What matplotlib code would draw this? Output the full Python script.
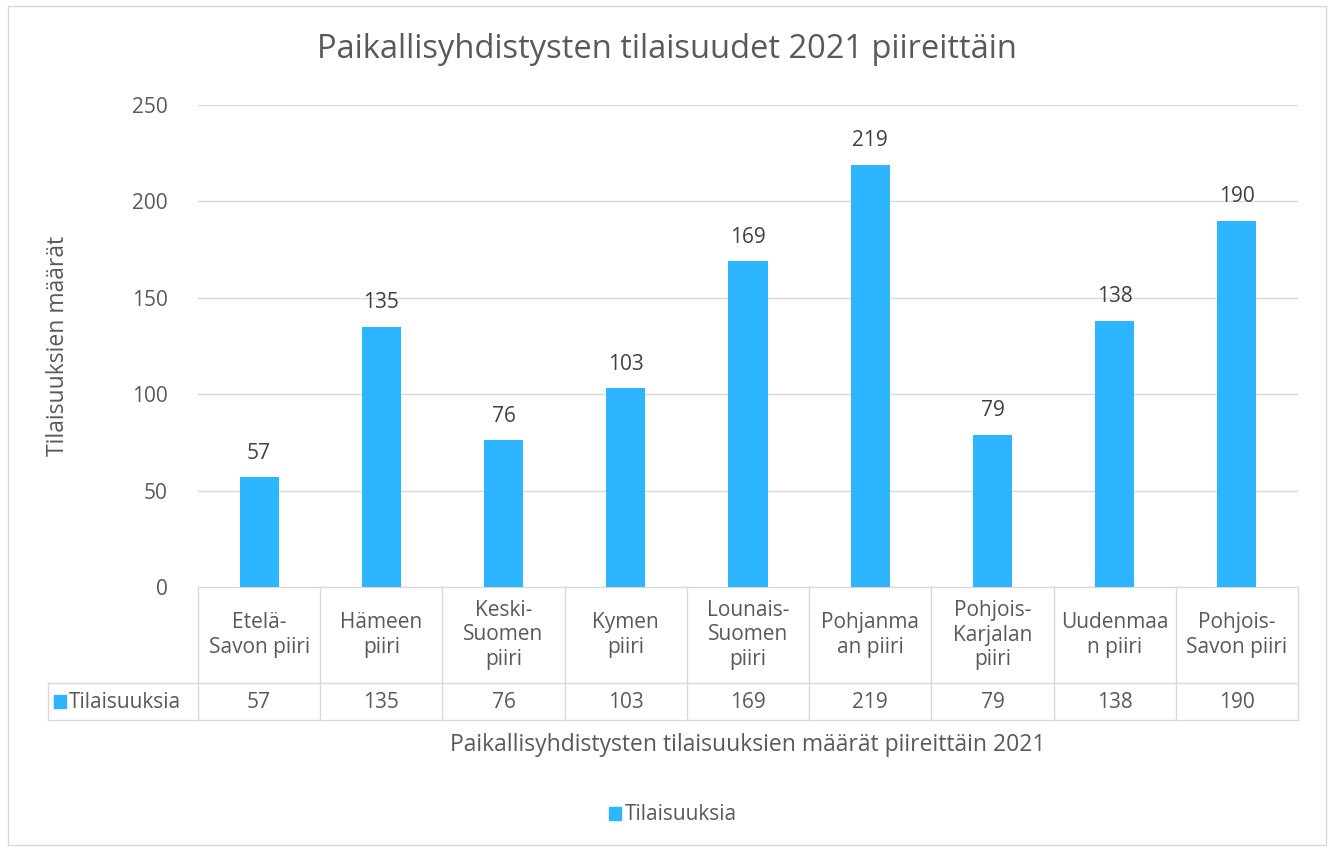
import matplotlib
matplotlib.use("Agg")
import matplotlib.pyplot as plt
from matplotlib.transforms import blended_transform_factory
from matplotlib.patches import Rectangle

plt.rcParams["font.family"] = ["Open Sans", "DejaVu Sans"]

CATEGORIES = ["Etelä-\nSavon piiri", "Hämeen\npiiri", "Keski-\nSuomen\npiiri", "Kymen\npiiri",
              "Lounais-\nSuomen\npiiri", "Pohjanma\nan piiri", "Pohjois-\nKarjalan\npiiri",
              "Uudenmaa\nn piiri", "Pohjois-\nSavon piiri"]
VALUES = [57, 135, 76, 103, 169, 219, 79, 138, 190]
SERIES = "Tilaisuuksia"
YTICKS = [0, 50, 100, 150, 200, 250]

BAR = "#2EB5FF"
TXT = "#595959"
GRID = "#D9D9D9"
W, H = 1332, 848
FS = 15


def fy(py):  # pixel y -> figure fraction
    return 1 - py / H


def fx(px):
    return px / W


fig = plt.figure(figsize=(W / 100, H / 100), dpi=100)
# outer chart border
fig.patches.append(Rectangle((fx(8), fy(845)), fx(1318), fy(6) - fy(845),
                             transform=fig.transFigure, fill=False, ec=GRID, lw=1))

ax = fig.add_axes([fx(198), fy(587), fx(1298 - 198), fy(105) - fy(587)])
x = range(len(VALUES))
bars = ax.bar(x, VALUES, width=0.32, color=BAR, zorder=3)
for b, v in zip(bars, VALUES):
    ax.text(b.get_x() + b.get_width() / 2, v + 7, str(v), ha="center", va="bottom",
            fontsize=FS, color="#404040")
ax.set_xlim(-0.5, len(VALUES) - 0.5)
ax.set_ylim(0, 250)
ax.set_yticks(YTICKS)
ax.set_yticklabels([str(t) for t in YTICKS], fontsize=FS, color=TXT)
ax.tick_params(axis="y", length=0, pad=22)
ax.set_xticks([])
ax.grid(axis="y", color=GRID, lw=1, zorder=0)
for s in ["top", "right", "left"]:
    ax.spines[s].set_visible(False)
ax.spines["bottom"].set_color(GRID)
fig.text(fx(58), fy(346), "Tilaisuuksien määrät", rotation=90, ha="center", va="center",
         fontsize=16.5, color=TXT)

# data table under the axis
tr = blended_transform_factory(ax.transData, fig.transFigure)
n = len(VALUES)
kw = dict(transform=tr, color=GRID, lw=1, clip_on=False)
for i in range(n + 1):
    fig.add_artist(plt.Line2D([i - 0.5, i - 0.5], [fy(587), fy(720)], **kw))
left = -0.5 - 150 / (1100 / n)
for yy in (683, 720):
    fig.add_artist(plt.Line2D([left, n - 0.5], [fy(yy), fy(yy)], **kw))
fig.add_artist(plt.Line2D([left, left], [fy(683), fy(720)], **kw))
for i, (c, v) in enumerate(zip(CATEGORIES, VALUES)):
    fig.text(i, fy(635), c, transform=tr, ha="center", va="center", fontsize=FS,
             color=TXT, linespacing=1.2)
    fig.text(i, fy(702), str(v), transform=tr, ha="center", va="center", fontsize=FS,
             color=TXT)
fig.patches.append(Rectangle((fx(54), fy(708)), fx(12), fy(695) - fy(708),
                             transform=fig.transFigure, color=BAR))
fig.text(fx(69), fy(703), SERIES, ha="left", va="center", fontsize=FS, color=TXT)

fig.text(fx(748), fy(745), "Paikallisyhdistysten tilaisuuksien määrät piireittäin 2021",
         ha="center", va="center", fontsize=16.5, color=TXT)
fig.text(fx(667), fy(50), "Paikallisyhdistysten tilaisuudet 2021 piireittäin",
         ha="center", va="center", fontsize=23.5, color=TXT)

# legend
fig.patches.append(Rectangle((fx(609), fy(820)), fx(12), fy(807) - fy(820),
                             transform=fig.transFigure, color=BAR))
fig.text(fx(625), fy(815), SERIES, ha="left", va="center", fontsize=FS, color=TXT)

fig.savefig("out.png", dpi=100)
